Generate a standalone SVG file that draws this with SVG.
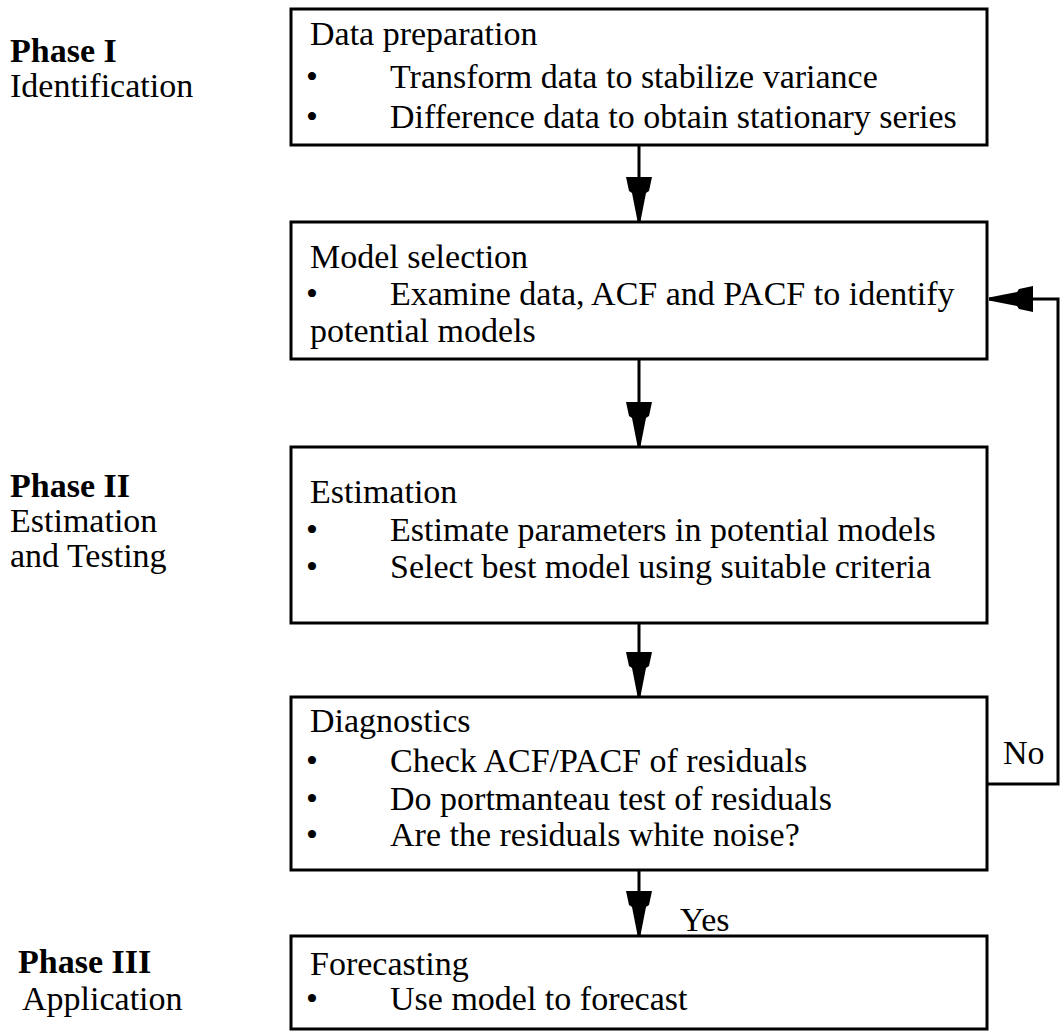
<svg xmlns="http://www.w3.org/2000/svg" width="1062" height="1031" viewBox="0 0 1062 1031" font-family="'Liberation Serif', 'Times New Roman', serif">
<defs>
<style>
.box{fill:#fff;stroke:#000;stroke-width:3}
.t{font-family:"Liberation Serif","Times New Roman",serif;font-size:34px;fill:#000}
.b{font-weight:bold}
.con{fill:none;stroke:#000;stroke-width:3}
</style>
<marker id="ah" viewBox="0 -13 44 26" refX="44" refY="0" markerWidth="44" markerHeight="26" markerUnits="userSpaceOnUse" orient="auto">
<path d="M0,-13 L14,-10 L16,-7 L44,-1.5 L44,1.5 L16,7 L14,10 L0,13 Z" fill="#000"/>
</marker>
</defs>
<rect width="1062" height="1031" fill="#fff"/>

<g id="phase1">
<text class="t b" x="10" y="62">Phase I</text>
<text class="t" x="10" y="97">Identification</text>
</g>
<g id="phase2">
<text class="t b" x="10" y="497">Phase II</text>
<text class="t" x="10" y="532">Estimation</text>
<text class="t" x="10" y="567">and Testing</text>
</g>
<g id="phase3">
<text class="t b" x="18" y="973">Phase III</text>
<text class="t" x="22" y="1010">Application</text>
</g>

<g id="data-preparation">
<rect class="box" x="291" y="9" width="696" height="136"/>
<text class="t" x="310" y="45">Data preparation</text>
<text class="t" x="306" y="88">•</text>
<text class="t" x="390" y="88">Transform data to stabilize variance</text>
<text class="t" x="306" y="128">•</text>
<text class="t" x="390" y="128">Difference data to obtain stationary series</text>
</g>

<g id="model-selection">
<rect class="box" x="291" y="222" width="696" height="137"/>
<text class="t" x="310" y="268">Model selection</text>
<text class="t" x="306" y="305">•</text>
<text class="t" x="390" y="305">Examine data, ACF and PACF to identify</text>
<text class="t" x="310" y="342">potential models</text>
</g>

<g id="estimation">
<rect class="box" x="291" y="447" width="696" height="176"/>
<text class="t" x="310" y="503">Estimation</text>
<text class="t" x="306" y="541">•</text>
<text class="t" x="390" y="541">Estimate parameters in potential models</text>
<text class="t" x="306" y="578">•</text>
<text class="t" x="390" y="578">Select best model using suitable criteria</text>
</g>

<g id="diagnostics">
<rect class="box" x="291" y="697" width="696" height="173"/>
<text class="t" x="310" y="732">Diagnostics</text>
<text class="t" x="306" y="772">•</text>
<text class="t" x="390" y="772">Check ACF/PACF of residuals</text>
<text class="t" x="306" y="810">•</text>
<text class="t" x="390" y="810">Do portmanteau test of residuals</text>
<text class="t" x="306" y="846">•</text>
<text class="t" x="390" y="846">Are the residuals white noise?</text>
</g>

<g id="forecasting">
<rect class="box" x="291" y="936" width="696" height="93"/>
<text class="t" x="310" y="975">Forecasting</text>
<text class="t" x="306" y="1010">•</text>
<text class="t" x="390" y="1010">Use model to forecast</text>
</g>

<g id="connectors">
<line class="con" x1="639" y1="145" x2="639" y2="221" marker-end="url(#ah)"/>
<line class="con" x1="639" y1="359" x2="639" y2="446" marker-end="url(#ah)"/>
<line class="con" x1="639" y1="623" x2="639" y2="696" marker-end="url(#ah)"/>
<line class="con" x1="639" y1="870" x2="639" y2="935" marker-end="url(#ah)"/>
<polyline class="con" points="987,784 1058,784 1058,299 989,299" marker-end="url(#ah)"/>
<text class="t" x="1003" y="764">No</text>
<text class="t" x="680" y="931">Yes</text>
</g>
</svg>
